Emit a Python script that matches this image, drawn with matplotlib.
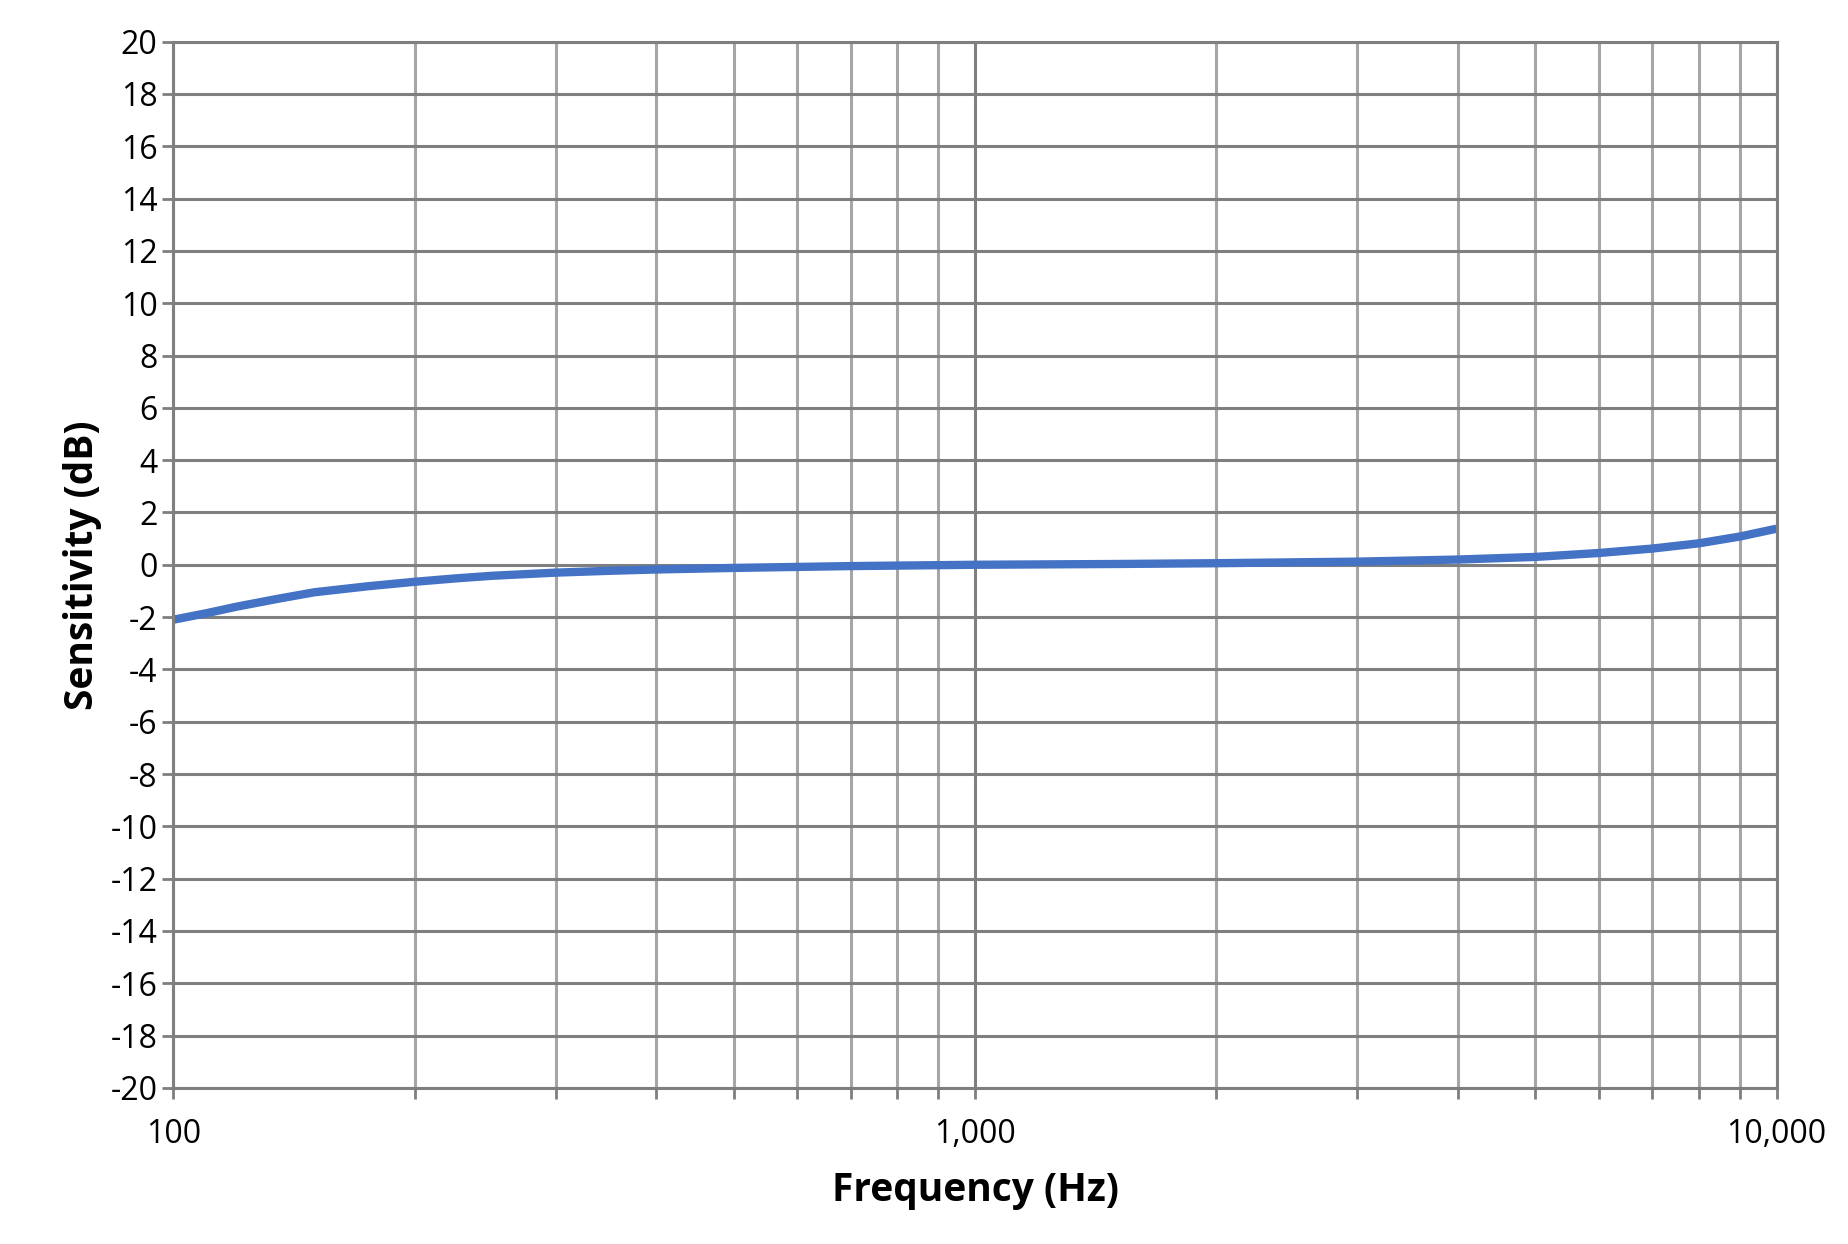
import matplotlib
matplotlib.use("Agg")
import matplotlib.pyplot as plt
from matplotlib.ticker import FixedLocator, NullFormatter

freq = [100, 110, 120, 135, 150, 175, 200, 225, 250, 300, 350, 400, 500, 700, 1000, 1500, 2000, 3000, 4000, 5000, 6000, 7000, 8000, 9000, 10000]
sens = [-2.1, -1.85, -1.6, -1.3, -1.05, -0.82, -0.65, -0.52, -0.42, -0.3, -0.23, -0.18, -0.12, -0.05, 0.0, 0.03, 0.06, 0.12, 0.2, 0.3, 0.45, 0.62, 0.82, 1.08, 1.38]
yticks = list(range(-20, 21, 2))
xticks = [100, 1000, 10000]
xlabels = ["100", "1,000", "10,000"]

plt.rcParams['font.family'] = ['Open Sans', 'DejaVu Sans']
plt.rcParams['axes.unicode_minus'] = False
fig = plt.figure(figsize=(18.49, 12.44), dpi=100)
ax = fig.add_axes([0.0938, 0.1255, 0.867, 0.841])
ax.set_xscale('log')
ax.set_xlim(100, 10000)
ax.set_ylim(-20, 20)
ax.set_yticks(yticks)
ax.set_xticks(xticks)
ax.set_xticklabels(xlabels)
minors = [m * d for d in (100, 1000) for m in range(2, 10)]
ax.xaxis.set_minor_locator(FixedLocator(minors))
ax.xaxis.set_minor_formatter(NullFormatter())
ax.grid(True, which='major', color='#7f7f7f', lw=2.2)
ax.grid(True, which='minor', axis='x', color='#a6a6a6', lw=2.2)
ax.set_axisbelow(True)
for s in ax.spines.values():
    s.set_color('#7f7f7f'); s.set_linewidth(2.2)
ax.tick_params(which='both', length=8, width=2, color='#7f7f7f', labelsize=23, direction='out')
ax.tick_params(axis='x', pad=14)
ax.plot(freq, sens, color='#4472c4', lw=6, solid_capstyle='butt', clip_on=False)
ax.set_xlabel('Frequency (Hz)', fontsize=28, fontweight='bold', labelpad=14)
ax.set_ylabel('Sensitivity (dB)', fontsize=28, fontweight='bold', labelpad=6)
fig.savefig('out.png', dpi=100)
